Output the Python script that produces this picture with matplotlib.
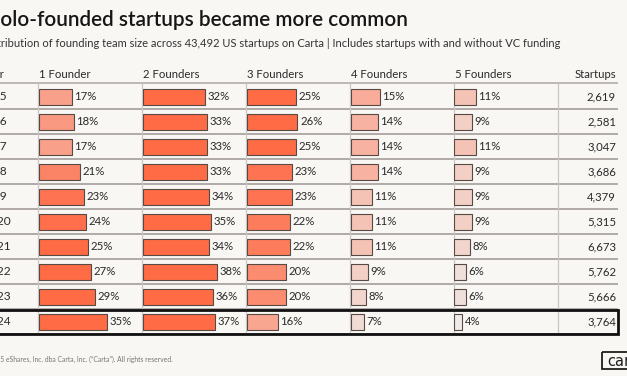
import matplotlib
matplotlib.use("Agg")
import matplotlib.pyplot as plt
from matplotlib.colors import LinearSegmentedColormap, Normalize
from matplotlib.patches import Rectangle

# ---------------- data ----------------
years = [2015, 2016, 2017, 2018, 2019, 2020, 2021, 2022, 2023, 2024]
founders_1 = [17, 18, 17, 21, 23, 24, 25, 27, 29, 35]
founders_2 = [32, 33, 33, 33, 34, 35, 34, 38, 36, 37]
founders_3 = [25, 26, 25, 23, 23, 22, 22, 20, 20, 16]
founders_4 = [15, 14, 14, 14, 11, 11, 11, 9, 8, 7]
founders_5 = [11, 9, 11, 9, 9, 9, 8, 6, 6, 4]
startups = [2619, 2581, 3047, 3686, 4379, 5315, 6673, 5762, 5666, 3764]
column_labels = ["1 Founder", "2 Founders", "3 Founders", "4 Founders", "5 Founders"]
year_header = "Year"
startups_header = "Startups"
title = "Solo-founded startups became more common"
subtitle = ("Distribution of founding team size across 43,492 US startups on Carta | "
            "Includes startups with and without VC funding")
footer = "\u00a9 2025 eShares, Inc. dba Carta, Inc. (\u201cCarta\u201d). All rights reserved."
highlight_year = 2024

# ---------------- style ----------------
plt.rcParams['font.family'] = ['Lato', 'DejaVu Sans']
BG = "#F9F7F4"
TXT = "#2a2a2a"
W, H = 627, 376
TABLE_TOP = 84
ROW_H = 25
COL_LEFT0 = 38
COL_W = 104
PX_PER_PCT = 1.96
STARTUPS_RIGHT = 616
TABLE_RIGHT = 618

cmap = LinearSegmentedColormap.from_list(
    "carta",
    [(0.0, "#EEEAE8"), (4 / 21, "#F2D6CE"), (7 / 21, "#F5C3B6"), (11 / 21, "#F8AC99"),
     (13 / 21, "#F9A08A"), (16 / 21, "#FB8C70"), (19 / 21, "#FE7453"), (1.0, "#FF6B45")])
norm = Normalize(vmin=4, vmax=25, clip=True)

fig = plt.figure(figsize=(W / 100, H / 100), dpi=100, facecolor=BG)
bg = fig.add_axes([0, 0, 1, 1], zorder=0)
bg.set_xlim(0, W)
bg.set_ylim(H, 0)
bg.axis("off")
bg.set_facecolor(BG)

renderer = fig.canvas.get_renderer()


def text_width(s, size, **kw):
    t = bg.text(0, 0, s, fontsize=size, **kw)
    w = t.get_window_extent(renderer).width
    t.remove()
    return w


def fit_size(s, target, **kw):
    return 10 * target / text_width(s, 10, **kw)


def cut_text(full, visible, x_visible, y, size, **kw):
    pre = text_width(full, size, **kw) - text_width(visible, size, **kw)
    bg.text(x_visible - pre, y, full, fontsize=size, va="baseline", **kw)


# title / subtitle
t_vis = title[1:]
t_fs = fit_size(t_vis, 407, weight="semibold")
cut_text(title, t_vis, 0.5, 26, t_fs, weight="semibold", color="#161616")

s_vis = subtitle[subtitle.index("ribution"):]
s_fs = fit_size(s_vis, 558)
cut_text(subtitle, s_vis, 1, 47, s_fs, color="#333333")

# header
HDR_FS = 8.2
cut_text(year_header, "r", 0.5, 78, HDR_FS, color=TXT)
for k, lab in enumerate(column_labels):
    bg.text(COL_LEFT0 + COL_W * k + 1, 78, lab, fontsize=HDR_FS, color=TXT, va="baseline")
bg.text(STARTUPS_RIGHT, 78, startups_header, fontsize=HDR_FS, color=TXT, va="baseline", ha="right")

# grid lines
n = len(years)
bg.hlines(TABLE_TOP - 1, 0, TABLE_RIGHT, color="#b3adaa", lw=1.2, zorder=1)
for i in range(1, n + 1):
    bg.hlines(TABLE_TOP + ROW_H * i, 0, TABLE_RIGHT, color="#9c9693", lw=1.1, zorder=1)
for k in range(len(column_labels) + 1):
    x = COL_LEFT0 + COL_W * k
    bg.vlines(x, TABLE_TOP - 1, TABLE_TOP + ROW_H * n, color="#cbc5c2", lw=0.9, zorder=1)

# year labels (original font has a narrow "1"; emulate its proportional spacing)
YR_FS = 8.6
narrow = {"1": 3.0}
for i, yv in enumerate(years):
    yc = TABLE_TOP + ROW_H * (i + 0.5)
    s = str(yv)
    third = s[2]
    if third in narrow:
        x0 = (-3.0 + narrow[third]) - text_width(s[:3], YR_FS)
    else:
        x0 = -3.0 - text_width(s[:2], YR_FS)
    bg.text(x0, yc, s, fontsize=YR_FS, color=TXT, va="center", ha="left")
    bg.text(STARTUPS_RIGHT, yc, f"{startups[i]:,}", fontsize=8.2, color=TXT, va="center", ha="right")

# bar columns
series = [founders_1, founders_2, founders_3, founders_4, founders_5]
for k, vals in enumerate(series):
    left = COL_LEFT0 + COL_W * k + 0.5
    ax = fig.add_axes([left / W, (H - (TABLE_TOP + ROW_H * n)) / H, COL_W / W, ROW_H * n / H],
                      zorder=2)
    ax.patch.set_alpha(0)
    ax.axis("off")
    ax.set_xlim(0, COL_W / PX_PER_PCT)
    ax.set_ylim(n - 0.5, -0.5)
    ax.barh(range(n), vals, height=0.64, color=[cmap(norm(v)) for v in vals],
            edgecolor="#574944", linewidth=0.8)
    for i, v in enumerate(vals):
        ax.text(v + 1.3, i, f"{v}%", fontsize=8.2, color=TXT, va="center", ha="left")

# highlight box around last year row
hi = years.index(highlight_year)
bg.add_patch(Rectangle((-5, TABLE_TOP + ROW_H * hi + 0.5), TABLE_RIGHT + 5, ROW_H - 1,
                       fill=False, ec="#111111", lw=2, zorder=5))

# footer
f_vis = footer[footer.index("5 eShares"):]
f_fs = fit_size(f_vis, 171)
cut_text(footer, f_vis, 0.5, 362, f_fs, color="#777777")

# logo
bg.add_patch(Rectangle((602, 351.5), 40, 17, fill=False, ec="#1e1e1e", lw=1.3, zorder=5))
bg.text(607, 361, "carta", fontsize=10.5, color="#1e1e1e", va="center", ha="left",
        family="DejaVu Sans")

fig.savefig("out.png", dpi=100, facecolor=BG)
